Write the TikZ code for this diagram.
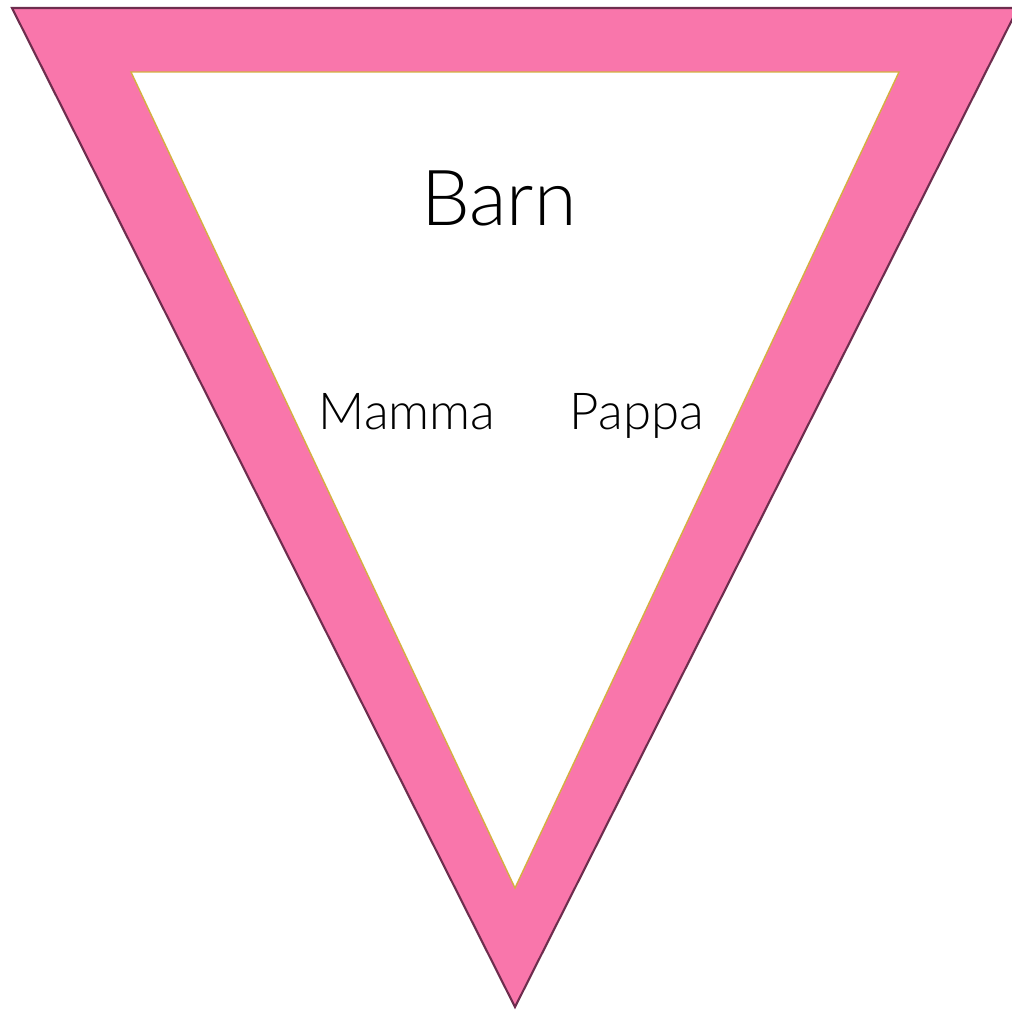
\documentclass[tikz,border=0pt]{standalone}
\usepackage{fontspec}
\setmainfont{Lato Light}
\definecolor{barnpink}{HTML}{F976AB}
\definecolor{rimpurple}{HTML}{6E2D4E}
\definecolor{rimgold}{HTML}{D4B040}

\begin{document}
\begin{tikzpicture}[x=0.02cm, y=-0.02cm]
    \tikzstyle{outer}  = [fill=barnpink, draw=rimpurple, line width=1.2pt, line join=miter]
    \tikzstyle{inner}  = [fill=white, draw=rimgold, line width=0.8pt, line join=miter]
    \tikzstyle{title}  = [font=\fontsize{44}{48}\selectfont, inner sep=0pt, anchor=base]
    \tikzstyle{parent} = [font=\fontsize{29}{32}\selectfont, inner sep=0pt, anchor=base]

    \useasboundingbox (0,0) rectangle (1012,1012);
    \clip (0,0) rectangle (1012,1012);

    \draw [outer] (12,8) -- (1018,8) -- (515,1007) -- cycle;
    \draw [inner] (131,72) -- (899,72) -- (515,888) -- cycle;

    \node [title] (barn) at (499,225) {Barn};
    \node [parent] (mamma) at (407,429) {Mamma};
    \node [parent] (pappa) at (637,429) {Pappa};
\end{tikzpicture}
\end{document}
